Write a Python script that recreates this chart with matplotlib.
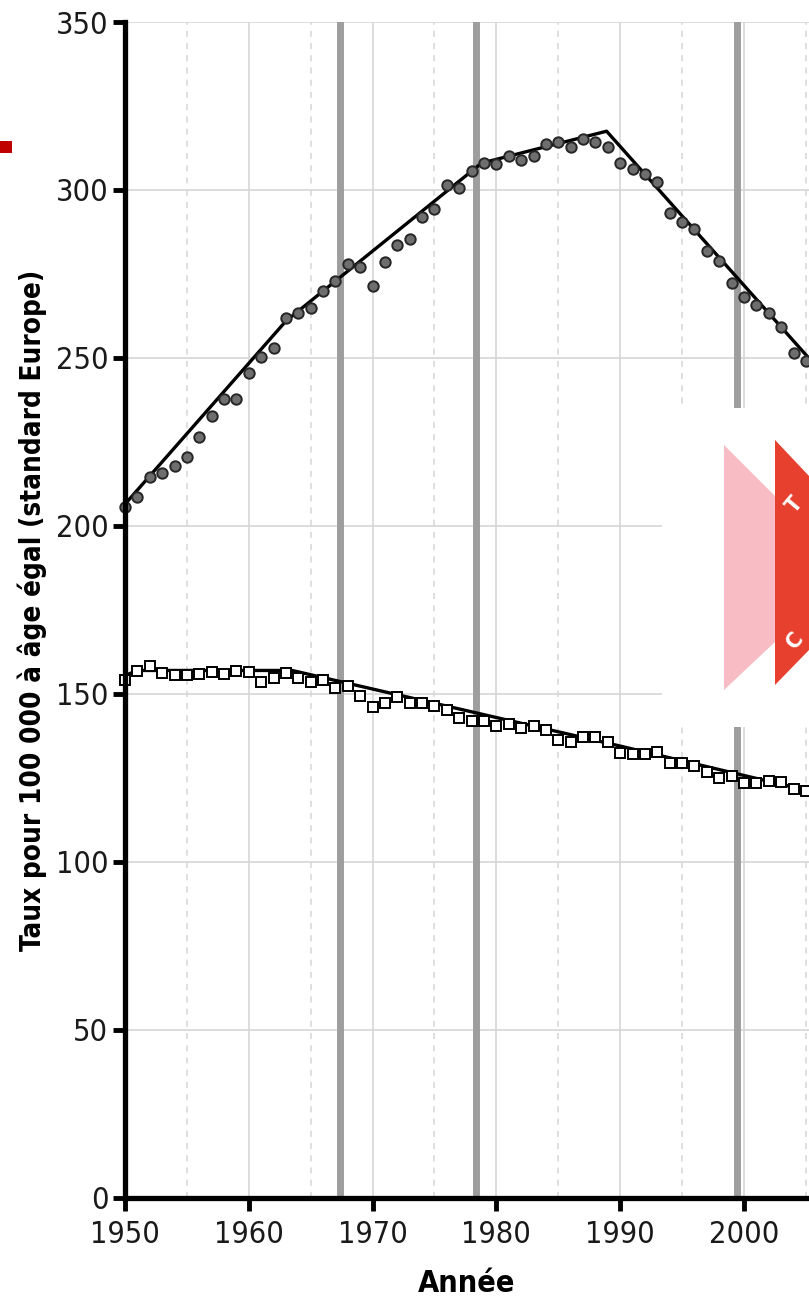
import matplotlib.pyplot as plt
from matplotlib.patches import Rectangle, Polygon

plt.rcParams["font.family"] = ["DejaVu Sans"]
plt.rcParams["font.stretch"] = "condensed"

# -------------------------
# data
# -------------------------
years = list(range(1950, 2006))

# dots (upper series)
rate_up = [205.7, 208.5, 214.7, 215.8, 217.9, 220.6, 226.6, 232.8, 237.7, 237.9,
           245.4, 250.4, 253.0, 261.8, 263.3, 264.8, 270.0, 273.0, 278.0, 277.2,
           271.5, 278.5, 283.5, 285.3, 292.1, 294.2, 301.5, 300.6, 305.7, 307.9,
           307.7, 310.0, 309.0, 310.0, 313.6, 314.2, 312.9, 315.1, 314.2, 312.7,
           308.1, 306.2, 304.8, 302.3, 293.3, 290.6, 288.4, 281.7, 279.0, 272.4,
           268.2, 265.8, 263.3, 259.1, 251.4, 249.2]

# squares (lower series)
rate_low = [154.2, 156.9, 158.2, 156.2, 155.7, 155.7, 156.0, 156.5, 156.0, 156.9,
            156.5, 153.5, 154.7, 156.2, 154.7, 153.5, 154.2, 151.9, 152.4, 149.5,
            146.0, 147.2, 149.2, 147.4, 147.2, 146.4, 145.2, 142.8, 142.1, 142.1,
            140.4, 141.0, 139.8, 140.5, 139.3, 136.3, 135.8, 137.1, 137.1, 135.8,
            132.3, 132.1, 132.1, 132.6, 129.6, 129.6, 128.6, 126.9, 125.1, 125.6,
            123.4, 123.4, 124.1, 123.7, 121.7, 121.0]

# piecewise fitted trends
trend_up_x = [1950, 1963, 1978.8, 1988.9, 2006]
trend_up_y = [206.5, 261.0, 308.0, 317.5, 246.8]
trend_low_x = [1950, 1951, 1963.5, 1990, 2006]
trend_low_y = [155.5, 157.0, 157.0, 134.5, 120.5]

# grey vertical markers
event_years = [1967.35, 1978.35, 1999.4]

x_ticks = list(range(1950, 2010, 10))
y_ticks = list(range(0, 400, 50))

# -------------------------
# figure
# -------------------------
fig = plt.figure(figsize=(8.09, 13.02), dpi=100)
ax = fig.add_axes([0.1545, 0.0799, 0.8455, 0.9032])

grid_c = "#d6d6d6"
for yv in y_ticks[1:]:
    ax.axhline(yv, color=grid_c, lw=1.2, zorder=0)
for xv in range(1960, 2010, 10):
    ax.axvline(xv, color=grid_c, lw=1.2, zorder=0)
for xv in range(1955, 2010, 10):
    ax.axvline(xv, color=grid_c, lw=1.1, ls=(0, (4, 4)), zorder=0)

for xv in event_years:
    ax.axvline(xv, color="#9e9e9e", lw=5, zorder=1)

# trend lines
ax.plot(trend_up_x, trend_up_y, color="black", lw=2.4, zorder=2)
ax.plot(trend_low_x, trend_low_y, color="black", lw=2.4, zorder=2)

# points
ax.plot(years, rate_up, ls="None", marker="o", markersize=7.5,
        markerfacecolor="#6e6e6e", markeredgecolor="#262626",
        markeredgewidth=1.4, zorder=3, clip_on=False)
ax.plot(years, rate_low, ls="None", marker="s", markersize=7,
        markerfacecolor="white", markeredgecolor="black",
        markeredgewidth=1.4, zorder=3, clip_on=False)

ax.set_xlim(1950, 2005.25)
ax.set_ylim(0, 350)
ax.set_xticks(x_ticks)
ax.set_yticks(y_ticks)

for s in ["top", "right"]:
    ax.spines[s].set_visible(False)
for s in ["left", "bottom"]:
    ax.spines[s].set_linewidth(3.8)
    ax.spines[s].set_zorder(5)

ax.tick_params(direction="out", length=9, width=3.5, labelsize=22,
               colors="black", labelcolor="#1a1a1a")
ax.tick_params(axis="y", pad=3)
ax.tick_params(axis="x", pad=7)

ax.set_xlabel("Année", fontsize=22, fontweight="bold", labelpad=14)
ax.set_ylabel("Taux pour 100 000 à âge égal (standard Europe)",
              fontsize=20, fontweight="bold", labelpad=6)

# overlay bits from the page (cropped graphic)
fig.patches.append(Rectangle((662 / 809, 575 / 1302), 147 / 809, 319 / 1302,
                             transform=fig.transFigure, facecolor="white",
                             edgecolor="none", zorder=10))


def fpt(px, py):
    return (px / 809, 1 - py / 1302)


pink = [fpt(724, 445), fpt(775, 496), fpt(775, 642), fpt(724, 690)]
red = [fpt(775, 440), fpt(809, 476), fpt(809, 650), fpt(775, 685)]
fig.patches.append(Polygon(pink, closed=True, transform=fig.transFigure,
                           facecolor="#f7bcc4", edgecolor="none", zorder=11))
fig.patches.append(Polygon(red, closed=True, transform=fig.transFigure,
                           facecolor="#e8402f", edgecolor="none", zorder=12))
fig.text(*fpt(795, 505), "T", color="white", fontsize=16, fontweight="bold",
         rotation=50, ha="center", va="center", zorder=13)
fig.text(*fpt(795, 640), "C", color="white", fontsize=16, fontweight="bold",
         rotation=50, ha="center", va="center", zorder=13)

fig.patches.append(Rectangle((0, 1 - 153 / 1302), 12 / 809, 12 / 1302,
                             transform=fig.transFigure, facecolor="#c00000",
                             edgecolor="none", zorder=10))

fig.savefig("out.png", dpi=100)
